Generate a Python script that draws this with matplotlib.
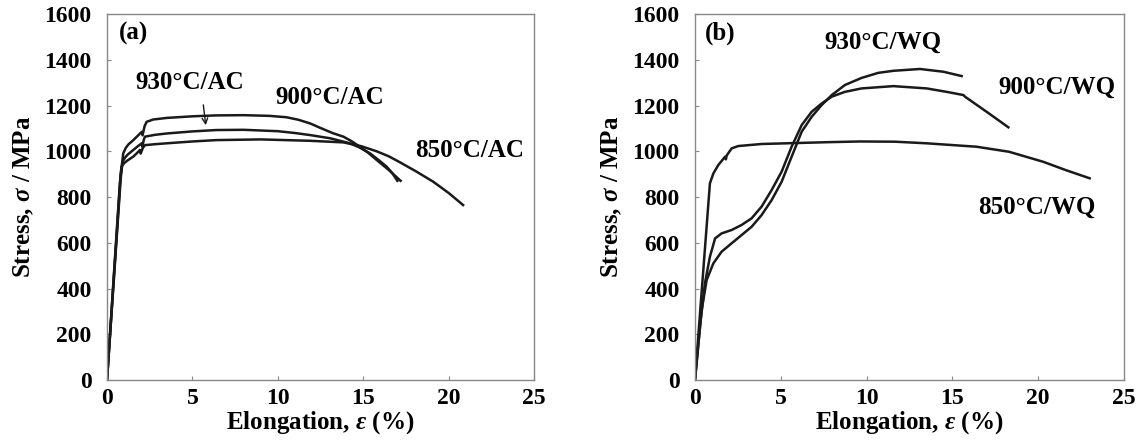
import matplotlib
matplotlib.use("Agg")
import matplotlib.pyplot as plt

plt.rcParams['font.family'] = ['Liberation Serif', 'DejaVu Serif']
plt.rcParams['font.weight'] = 'bold'
plt.rcParams['mathtext.fontset'] = 'custom'
plt.rcParams['mathtext.rm'] = 'Liberation Serif:bold'
plt.rcParams['mathtext.it'] = 'Liberation Serif:italic:bold'

# (a) air cooled
ac900_x = [0, 0.4, 0.8, 0.9, 0.95, 1.1, 1.25, 1.54, 1.8, 2.03, 2.08, 2.2, 2.32, 2.7, 3.5, 5.0, 6.4,
           8.0, 9.5, 10.5, 11.2, 11.89, 12.5, 13.2, 13.84, 14.3, 14.81, 15.3, 15.79, 16.5, 17.19]
ac900_y = [0, 450, 900, 960, 991, 1015, 1030, 1049, 1068, 1085, 1070, 1110, 1129, 1139, 1146, 1153, 1157,
           1158, 1155, 1149, 1138, 1122, 1102, 1080, 1064, 1045, 1020, 993, 962, 918, 871]
ac930_x = [0, 0.4, 0.8, 0.91, 1.05, 1.2, 1.54, 1.8, 2.03, 2.07, 2.15, 2.22, 2.8, 3.5, 5.0, 6.4, 8.0,
           10.0, 11.0, 11.89, 13.06, 14.23, 14.8, 15.4, 15.9, 16.37, 16.7, 17.0]
ac930_y = [0, 440, 880, 954, 972, 985, 1006, 1022, 1035, 1020, 1050, 1064, 1072, 1078, 1087, 1093, 1094,
           1088, 1080, 1071, 1057, 1035, 1016, 991, 962, 933, 905, 871]
ac850_x = [0, 0.4, 0.75, 0.85, 1.0, 1.2, 1.54, 1.75, 1.93, 1.97, 2.1, 2.22, 2.8, 3.5, 5.0, 6.4, 9.0,
           11.89, 13.84, 14.9, 15.79, 16.5, 17.15, 18.1, 19.1, 20.0, 20.85]
ac850_y = [0, 460, 860, 933, 948, 960, 977, 992, 1006, 990, 1015, 1027, 1031, 1035, 1043, 1049, 1052,
           1046, 1039, 1022, 1000, 978, 952, 912, 867, 818, 765]

# (b) water quenched
wq850_x = [0, 0.19, 0.87, 1.07, 1.36, 1.75, 1.8, 1.85, 2.14, 2.52, 3.88, 7.77, 9.62, 11.66, 13.5,
           16.41, 18.3, 20.3, 21.6, 23.0]
wq850_y = [0, 190, 860, 903, 940, 976, 965, 982, 1013, 1023, 1032, 1040, 1043, 1042, 1035,
           1020, 998, 954, 918, 882]
wq900_x = [0, 0.29, 0.58, 0.87, 1.17, 1.55, 2.14, 2.72, 3.30, 3.88, 4.47, 5.05, 5.63, 6.22, 6.80,
           7.38, 7.97, 8.74, 9.71, 11.56, 13.5, 14.66, 15.64, 15.75, 16.99, 18.26]
wq900_y = [0, 233, 423, 539, 619, 641, 656, 678, 707, 758, 831, 911, 1020, 1115, 1173,
           1209, 1239, 1260, 1275, 1285, 1275, 1260, 1246, 1238, 1173, 1105]
wq930_x = [0, 0.39, 0.68, 1.07, 1.55, 2.14, 2.72, 3.30, 3.88, 4.47, 5.05, 5.63, 6.22, 6.80,
           7.38, 7.97, 8.74, 9.71, 10.68, 11.56, 13.11, 14.47, 15.54]
wq930_y = [0, 306, 437, 510, 561, 598, 634, 670, 721, 787, 867, 976, 1086, 1151,
           1202, 1246, 1290, 1321, 1343, 1352, 1360, 1348, 1329]

xticks = [0, 5, 10, 15, 20, 25]
yticks = [0, 200, 400, 600, 800, 1000, 1200, 1400, 1600]

fig = plt.figure(figsize=(11.41, 4.43), dpi=100)
ax1 = fig.add_axes([0.0938, 0.1422, 0.3742, 0.826])
ax2 = fig.add_axes([0.6091, 0.1422, 0.376, 0.826])

lw = 1.8
for x, y in [(ac900_x, ac900_y), (ac930_x, ac930_y), (ac850_x, ac850_y)]:
    ax1.plot(x, y, color='#1a1a1a', lw=lw, solid_joinstyle='round')
for x, y in [(wq850_x, wq850_y), (wq900_x, wq900_y), (wq930_x, wq930_y)]:
    ax2.plot(x, y, color='#1a1a1a', lw=lw, solid_joinstyle='round')

for ax in (ax1, ax2):
    ax.set_xlim(0, 25)
    ax.set_ylim(0, 1600)
    ax.set_xticks(xticks)
    ax.set_yticks(yticks)
    ax.tick_params(direction='in', length=3, width=0.8, color='#888888', labelsize=17)
    ax.tick_params(axis='y', pad=11)
    ax.tick_params(axis='x', pad=6)
    for s in ax.spines.values():
        s.set_color('#888888')
        s.set_linewidth(1.0)
    ax.set_xlabel(r'Elongation, $\varepsilon$ (%)', fontsize=18, fontweight='bold', labelpad=0)
    ax.set_ylabel(r'Stress, $\sigma$ / MPa', fontsize=18, fontweight='bold', labelpad=6)

fs = 18
ax1.text(0.7, 1517, '(a)', fontsize=fs, fontweight='bold', va='center')
ax1.text(4.86, 1303, '930°C/AC', fontsize=fs, fontweight='bold', ha='center', va='center')
ax1.text(13.06, 1237, '900°C/AC', fontsize=fs, fontweight='bold', ha='center', va='center')
ax1.text(21.25, 1005, '850°C/AC', fontsize=fs, fontweight='bold', ha='center', va='center')
ax1.annotate('', xy=(5.8, 1102), xytext=(5.62, 1215),
             arrowprops=dict(arrowstyle='->', color='#1a1a1a', lw=1.0))

ax2.text(0.55, 1517, '(b)', fontsize=fs, fontweight='bold', va='center')
ax2.text(10.96, 1478, '930°C/WQ', fontsize=fs, fontweight='bold', ha='center', va='center')
ax2.text(21.1, 1281, '900°C/WQ', fontsize=fs, fontweight='bold', ha='center', va='center')
ax2.text(19.93, 756, '850°C/WQ', fontsize=fs, fontweight='bold', ha='center', va='center')

fig.savefig('out.png', dpi=100)
